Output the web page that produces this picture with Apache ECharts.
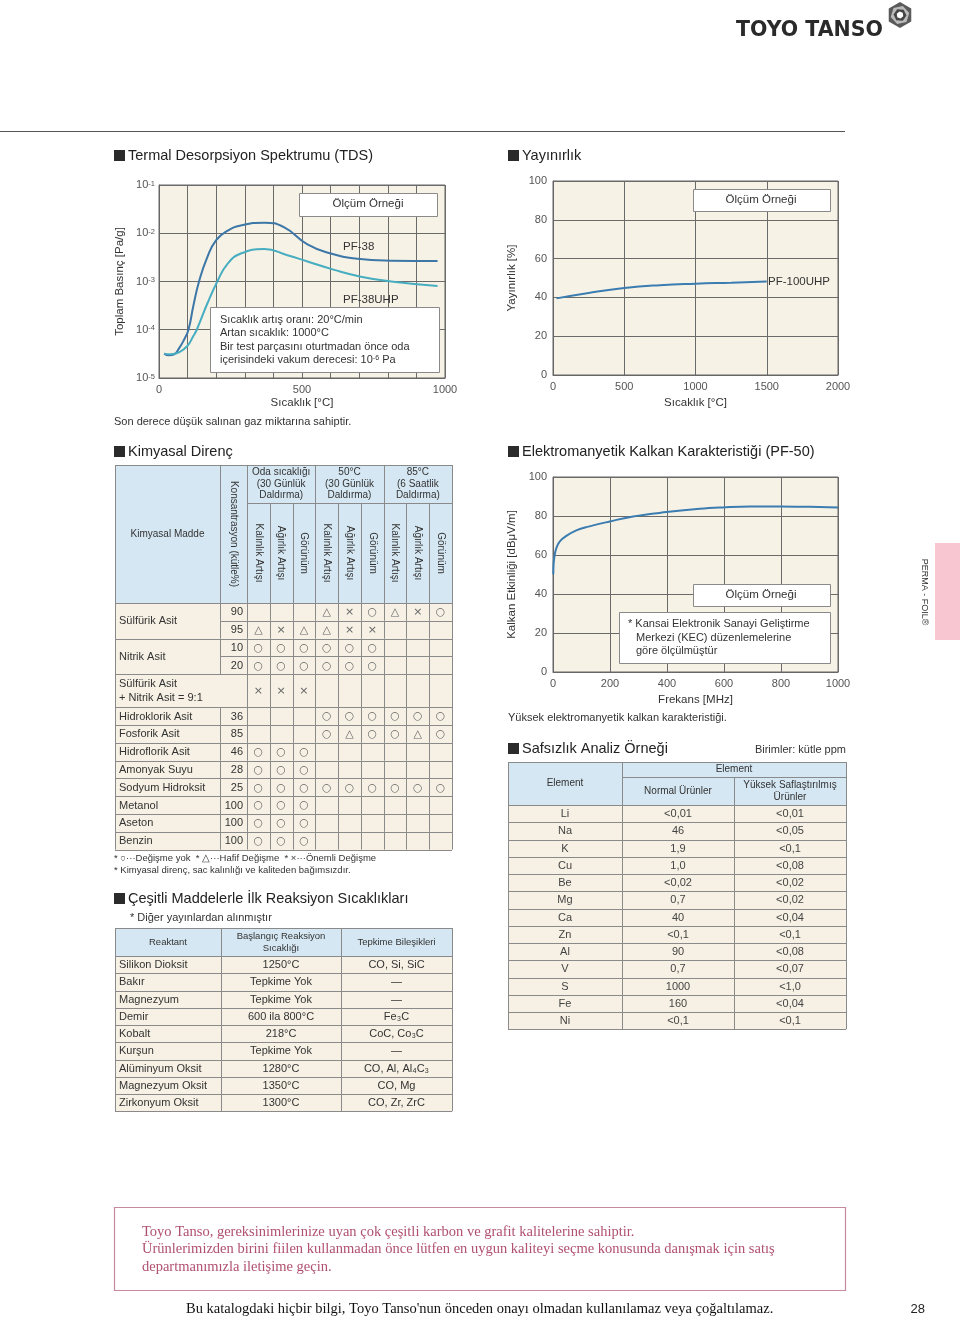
<!DOCTYPE html>
<html><head><meta charset="utf-8">
<script src="https://cdn.jsdelivr.net/npm/echarts@6/dist/echarts.min.js"></script>
<style>html,body{margin:0;padding:0;background:#fff}#c{width:960px;height:1319px}</style>
</head><body><div id="c"></div>
<script>
// ================= DATA =================
// TDS (Thermal Desorption Spectrum)
const tdsTempPF38 = [18, 35, 53, 70, 88, 103, 120, 140, 169, 200, 239, 286, 368, 438, 519, 601, 694, 811, 974];
const tdsPF38 = [3.2e-5, 2.95e-5, 3.1e-5, 4.1e-5, 6.3e-5, 1.0e-4, 3.1e-4, 1.0e-3, 3.2e-3, 7.2e-3, 1.12e-2, 1.45e-2, 1.66e-2, 1.32e-2, 5.9e-3, 3.8e-3, 2.95e-3, 2.7e-3, 2.65e-3];
const tdsTempUHP = [18, 41, 70, 99, 120, 132, 169, 204, 239, 286, 368, 449, 519, 613, 706, 811, 974];
const tdsPF38UHP = [3.2e-5, 3.1e-5, 3.4e-5, 4.6e-5, 7.4e-5, 1.0e-4, 3.5e-4, 1.0e-3, 2.3e-3, 3.8e-3, 4.7e-3, 3.5e-3, 2.6e-3, 1.74e-3, 1.26e-3, 1.0e-3, 8.1e-4];
// Emissivity
const emisTemp = [25, 250, 500, 750, 1000, 1250, 1500];
const emisPF100UHP = [39.5, 42.3, 44.8, 46.3, 47.1, 47.6, 48.2];
// EMI shielding
const emiFreq = [1, 2.3, 5.8, 11.7, 23.4, 46.8, 81.9, 117, 199, 281, 398, 515, 596, 690, 798, 901, 1000];
const emiPF50 = [50.1, 55.7, 60.0, 63.5, 66.9, 69.8, 72.6, 74.3, 77.2, 79.8, 82.0, 83.7, 84.4, 84.9, 84.9, 84.7, 84.4];
// Chemical resistance
const chemSubstances = ['Sülfürik Asit', 'Sülfürik Asit', 'Nitrik Asit', 'Nitrik Asit', 'Sülfürik Asit\n+ Nitrik Asit = 9:1', 'Hidroklorik Asit', 'Fosforik Asit', 'Hidroflorik Asit', 'Amonyak Suyu', 'Sodyum Hidroksit', 'Metanol', 'Aseton', 'Benzin'];
const chemConcentrations = ['90', '95', '10', '20', '', '36', '85', '46', '28', '25', '100', '100', '100'];
const chemResults = [
  ['', '', '', '△', '×', '○', '△', '×', '○'],
  ['△', '×', '△', '△', '×', '×', '', '', ''],
  ['○', '○', '○', '○', '○', '○', '', '', ''],
  ['○', '○', '○', '○', '○', '○', '', '', ''],
  ['×', '×', '×', '', '', '', '', '', ''],
  ['', '', '', '○', '○', '○', '○', '○', '○'],
  ['', '', '', '○', '△', '○', '○', '△', '○'],
  ['○', '○', '○', '', '', '', '', '', ''],
  ['○', '○', '○', '', '', '', '', '', ''],
  ['○', '○', '○', '○', '○', '○', '○', '○', '○'],
  ['○', '○', '○', '', '', '', '', '', ''],
  ['○', '○', '○', '', '', '', '', '', ''],
  ['○', '○', '○', '', '', '', '', '', '']
];
const chemGroups = ['Oda sıcaklığı\n(30 Günlük\nDaldırma)', '50°C\n(30 Günlük\nDaldırma)', '85°C\n(6 Saatlik\nDaldırma)'];
const chemSubHeaders = ['Kalınlık Artışı', 'Ağırlık Artışı', 'Görünüm'];
// Reaction temperatures
const reactants = ['Silikon Dioksit', 'Bakır', 'Magnezyum', 'Demir', 'Kobalt', 'Kurşun', 'Alüminyum Oksit', 'Magnezyum Oksit', 'Zirkonyum Oksit'];
const reactionTemps = ['1250°C', 'Tepkime Yok', 'Tepkime Yok', '600 ila 800°C', '218°C', 'Tepkime Yok', '1280°C', '1350°C', '1300°C'];
const reactionProducts = ['CO, Si, SiC', '—', '—', 'Fe₃C', 'CoC, Co₃C', '—', 'CO, Al, Al₄C₃', 'CO, Mg', 'CO, Zr, ZrC'];
// Purity
const elements = ['Li', 'Na', 'K', 'Cu', 'Be', 'Mg', 'Ca', 'Zn', 'Al', 'V', 'S', 'Fe', 'Ni'];
const normalProducts = ['<0,01', '46', '1,9', '1,0', '<0,02', '0,7', '40', '<0,1', '90', '0,7', '1000', '160', '<0,1'];
const highPurityProducts = ['<0,01', '<0,05', '<0,1', '<0,08', '<0,02', '<0,02', '<0,04', '<0,1', '<0,08', '<0,07', '<1,0', '<0,04', '<0,1'];

// ================= DRAWING =================
const LS = '"Liberation Sans", Arial, Helvetica, sans-serif';
const SERIF = '"Liberation Serif", "Times New Roman", serif';
const SYM = '"DejaVu Sans", sans-serif';
const HEAD_BG = '#d5e7f2', BODY_BG = '#f6f1e4', LINE = '#8a8a8a', PLOT_BG = '#f7f2e6';
const G = [];
const sn = v => Math.round(v) + 0.5;
function T(x, y, text, o) {
  o = o || {};
  const st = {
    text: text, x: 0, y: 0,
    fill: o.color || '#333',
    fontSize: o.size || 11, fontFamily: o.family || LS, fontWeight: o.weight || 'normal',
    align: o.align || 'left', textAlign: o.align || 'left',
    verticalAlign: o.va || 'middle', textVerticalAlign: o.va || 'middle'
  };
  if (o.lh) st.lineHeight = o.lh;
  if (o.rich) st.rich = o.rich;
  G.push({type: 'text', x: x, y: y, rotation: o.rot || 0, z: 110, silent: true, style: st});
}
function R(x, y, w, h, fill, stroke, lw, z) {
  G.push({type: 'rect', shape: {x: stroke ? sn(x) : x, y: stroke ? sn(y) : y, width: Math.round(w), height: Math.round(h)}, z: z || 100, silent: true,
    style: {fill: fill || 'none', stroke: stroke || null, lineWidth: lw || 1}});
}
function L(x1, y1, x2, y2, color, lw) {
  if (x1 === x2) { x1 = x2 = sn(x1); } if (y1 === y2) { y1 = y2 = sn(y1); }
  G.push({type: 'line', shape: {x1, y1, x2, y2}, z: 105, silent: true, style: {stroke: color || LINE, lineWidth: lw || 1}});
}
function section(x, y, text) {
  R(x, y - 6, 11, 11, '#2b2b2b', null, 0);
  T(x + 14, y, text, {size: 14.5, color: '#222'});
}

// Header / logo
T(736, 31, 'TOYO TANSO', {size: 20.5, weight: 'bold', family: '"DejaVu Sans", sans-serif', color: '#2a2a2a'});
(function () {
  const cx = 900, cy = 15;
  const hex = (r, a0) => { const p = []; for (let k = 0; k < 6; k++) { const a = a0 + k * Math.PI / 3; p.push([cx + r * Math.cos(a), cy + r * Math.sin(a)]); } return p; };
  G.push({type: 'polygon', shape: {points: hex(13, Math.PI / 6)}, z: 100, style: {fill: '#5a5a5a'}});
  G.push({type: 'polygon', shape: {points: hex(9.5, Math.PI / 6 + 0.3)}, z: 101, style: {fill: '#bbb'}});
  G.push({type: 'polygon', shape: {points: hex(6.5, Math.PI / 6 + 0.6)}, z: 102, style: {fill: '#444'}});
  G.push({type: 'polygon', shape: {points: hex(3.5, Math.PI / 6 + 0.9)}, z: 103, style: {fill: '#fff'}});
})();
L(0, 131, 845, 131, '#555', 1.2);

// Section titles
section(114, 156, 'Termal Desorpsiyon Spektrumu (TDS)');
section(508, 156, 'Yayınırlık');
section(114, 452, 'Kimyasal Direnç');
section(508, 452, 'Elektromanyetik Kalkan Karakteristiği (PF-50)');
section(508, 749, 'Safsızlık Analiz Örneği');
section(114, 899, 'Çeşitli Maddelerle İlk Reaksiyon Sıcaklıkları');

// TDS annotations
R(299, 193, 138, 23, '#fff', '#8a8a8a', 1);
T(368, 204, 'Ölçüm Örneği', {align: 'center', size: 11.5});
T(343, 247, 'PF-38', {size: 11.5});
T(343, 300, 'PF-38UHP', {size: 11.5});
R(210, 307, 229, 65, '#fff', '#8a8a8a', 1);
T(220, 320, 'Sıcaklık artış oranı: 20°C/min', {size: 11});
T(220, 333, 'Artan sıcaklık: 1000°C', {size: 11});
T(220, 347, 'Bir test parçasını oturtmadan önce oda', {size: 11});
T(220, 360, 'içerisindeki vakum derecesi: {s|10}{p|-6}{s| Pa}', {size: 11,
  rich: {s: {fontSize: 11, fontFamily: LS, fill: '#333', verticalAlign: 'bottom'}, p: {fontSize: 7, fontFamily: LS, fill: '#333', verticalAlign: 'top'}}});
T(114, 422, 'Son derece düşük salınan gaz miktarına sahiptir.', {size: 11});

// Emissivity annotations
R(693, 189, 137, 22, '#fff', '#8a8a8a', 1);
T(761, 200, 'Ölçüm Örneği', {align: 'center', size: 11.5});
T(768, 282, 'PF-100UHP', {size: 11.5});

// EMI annotations
R(693, 584, 137, 22, '#fff', '#8a8a8a', 1);
T(761, 595, 'Ölçüm Örneği', {align: 'center', size: 11.5});
R(619, 612, 211, 51, '#fff', '#8a8a8a', 1);
T(628, 624, '* Kansai Elektronik Sanayi Geliştirme', {size: 11});
T(636, 638, 'Merkezi (KEC) düzenlemelerine', {size: 11});
T(636, 651, 'göre ölçülmüştür', {size: 11});
T(508, 718, 'Yüksek elektromanyetik kalkan karakteristiği.', {size: 11});

// ---------- Chemical resistance table ----------
(function () {
  const x0 = 115, xName = 220, xConc = 247, xEnd = 452;
  const top = 465, sub = 503, head = 603;
  const w = (xEnd - xConc) / 9;
  R(x0, top, xEnd - x0, head - top, HEAD_BG, null, 0, 99);
  let y = head; const rows = [];
  chemSubstances.forEach(n => { const h = n.indexOf('\n') >= 0 ? 33 : 17.8; rows.push([y, h]); y += h; });
  const bottom = y;
  R(x0, head, xEnd - x0, bottom - head, BODY_BG, null, 0, 99);
  L(x0, top, xEnd, top); L(x0, head, xEnd, head); L(xConc, sub, xEnd, sub);
  L(x0, top, x0, bottom); L(xEnd, top, xEnd, bottom);
  L(xName, top, xName, head); L(xConc, top, xConc, head);
  for (let k = 1; k < 9; k++) { const xx = xConc + k * w; L(xx, k % 3 === 0 ? top : sub, xx, head); }
  T((x0 + xName) / 2, 534, 'Kimyasal Madde', {align: 'center', size: 10});
  T((xName + xConc) / 2, 534, 'Konsantrasyon (kütle%)', {align: 'center', size: 10, rot: -Math.PI / 2});
  chemGroups.forEach((g, gi) => T(xConc + (gi * 3 + 1.5) * w, 484, g, {align: 'center', size: 10, lh: 11.5}));
  for (let k = 0; k < 9; k++) T(xConc + (k + 0.5) * w, 553, chemSubHeaders[k % 3], {align: 'center', size: 10, rot: -Math.PI / 2});
  rows.forEach(([ry, h], i) => {
    if (i > 0) { const merged = chemSubstances[i] === chemSubstances[i - 1]; L(merged ? xName : x0, ry, xEnd, ry); }
    if (chemConcentrations[i] !== '') L(xName, ry, xName, ry + h);
    for (let k = 0; k <= 8; k++) L(xConc + k * w, ry, xConc + k * w, ry + h);
  });
  L(x0, bottom, xEnd, bottom);
  let i = 0;
  while (i < chemSubstances.length) {
    let j = i; while (j + 1 < chemSubstances.length && chemSubstances[j + 1] === chemSubstances[i]) j++;
    const yc = (rows[i][0] + rows[j][0] + rows[j][1]) / 2;
    T(x0 + 4, yc + 0.5, chemSubstances[i], {size: 11, lh: 13.5});
    i = j + 1;
  }
  rows.forEach(([ry, h], r) => {
    if (chemConcentrations[r]) T(xConc - 4, ry + h / 2 + 0.5, chemConcentrations[r], {align: 'right', size: 11});
    chemResults[r].forEach((s, k) => { if (s) T(xConc + (k + 0.5) * w, ry + h / 2 + 0.5, s, {align: 'center', size: 11, family: SYM, color: '#666'}); });
  });
  T(114, 858, '* ○···Değişme yok  * △···Hafif Değişme  * ×···Önemli Değişme', {size: 9.5});
  T(114, 870, '* Kimyasal direnç, sac kalınlığı ve kaliteden bağımsızdır.', {size: 9.5});
})();

// ---------- Reaction table ----------
(function () {
  const cols = [115, 221, 341, 452];
  const top = 928, head = 956, rh = 17.25;
  const bottom = head + rh * reactants.length;
  T(130, 918, '* Diğer yayınlardan alınmıştır', {size: 11});
  R(cols[0], top, cols[3] - cols[0], head - top, HEAD_BG, null, 0, 99);
  R(cols[0], head, cols[3] - cols[0], bottom - head, BODY_BG, null, 0, 99);
  L(cols[0], top, cols[3], top);
  for (let r = 0; r <= reactants.length; r++) L(cols[0], head + r * rh, cols[3], head + r * rh);
  cols.forEach(x => L(x, top, x, bottom));
  T((cols[0] + cols[1]) / 2, 942, 'Reaktant', {align: 'center', size: 9.5});
  T((cols[1] + cols[2]) / 2, 942, 'Başlangıç Reaksiyon\nSıcaklığı', {align: 'center', size: 9.5, lh: 12});
  T((cols[2] + cols[3]) / 2, 942, 'Tepkime Bileşikleri', {align: 'center', size: 9.5});
  reactants.forEach((n, r) => {
    const yc = head + (r + 0.5) * rh + 0.5;
    T(cols[0] + 4, yc, n, {size: 11});
    T((cols[1] + cols[2]) / 2, yc, reactionTemps[r], {align: 'center', size: 11});
    T((cols[2] + cols[3]) / 2, yc, reactionProducts[r], {align: 'center', size: 11});
  });
})();

// ---------- Purity table ----------
(function () {
  const cols = [508, 622, 734, 846];
  const top = 762, mid = 777, head = 805, rh = 17.25;
  const bottom = head + rh * elements.length;
  T(846, 750, 'Birimler: kütle ppm', {align: 'right', size: 11});
  R(cols[0], top, cols[3] - cols[0], head - top, HEAD_BG, null, 0, 99);
  R(cols[0], head, cols[3] - cols[0], bottom - head, BODY_BG, null, 0, 99);
  L(cols[0], top, cols[3], top); L(cols[1], mid, cols[3], mid);
  for (let r = 0; r <= elements.length; r++) L(cols[0], head + r * rh, cols[3], head + r * rh);
  L(cols[0], top, cols[0], bottom); L(cols[1], top, cols[1], bottom); L(cols[3], top, cols[3], bottom);
  L(cols[2], mid, cols[2], bottom);
  T((cols[0] + cols[1]) / 2, 783, 'Element', {align: 'center', size: 10});
  T((cols[1] + cols[3]) / 2, 769, 'Element', {align: 'center', size: 10});
  T((cols[1] + cols[2]) / 2, 791, 'Normal Ürünler', {align: 'center', size: 10});
  T((cols[2] + cols[3]) / 2, 791, 'Yüksek Saflaştırılmış\nÜrünler', {align: 'center', size: 10, lh: 12});
  elements.forEach((e, r) => {
    const yc = head + (r + 0.5) * rh + 0.5;
    T((cols[0] + cols[1]) / 2, yc, e, {align: 'center', size: 11, color: '#444'});
    T((cols[1] + cols[2]) / 2, yc, normalProducts[r], {align: 'center', size: 11, color: '#444'});
    T((cols[2] + cols[3]) / 2, yc, highPurityProducts[r], {align: 'center', size: 11, color: '#444'});
  });
})();

// Side tab
R(935, 543, 25, 97, '#f8c6d0', null, 0);
T(924, 592, 'PERMA - FOIL®', {align: 'center', size: 9, rot: -Math.PI / 2, color: '#333'});

// Footer
R(114, 1207, 731, 83, 'none', '#c48a9b', 1.2);
T(142, 1232, 'Toyo Tanso, gereksinimlerinize uyan çok çeşitli karbon ve grafit kalitelerine sahiptir.', {size: 14.5, family: SERIF, color: '#b0506f'});
T(142, 1249, 'Ürünlerimizden birini fiilen kullanmadan önce lütfen en uygun kaliteyi seçme konusunda danışmak için satış', {size: 14.5, family: SERIF, color: '#b0506f'});
T(142, 1267, 'departmanımızla iletişime geçin.', {size: 14.5, family: SERIF, color: '#b0506f'});
T(186, 1309, "Bu katalogdaki hiçbir bilgi, Toyo Tanso'nun önceden onayı olmadan kullanılamaz veya çoğaltılamaz.", {size: 14.5, family: SERIF, color: '#111'});
T(925, 1309, '28', {align: 'right', size: 13, color: '#222'});

// ================= CHART =================
const zip = (a, b) => a.map((v, i) => [v, b[i]]);
const axBase = () => ({
  nameLocation: 'middle',
  axisTick: {show: false},
  axisLine: {show: true, lineStyle: {color: '#666', width: 1}},
  splitLine: {show: true, lineStyle: {color: '#6a6a6a', width: 1}},
  axisLabel: {color: '#555', fontSize: 11, fontFamily: LS, margin: 6, formatter: v => String(v)},
  nameTextStyle: {color: '#333', fontSize: 11.5, fontFamily: LS}
});
const gridBase = {show: true, backgroundColor: PLOT_BG, borderColor: '#666', borderWidth: 1, containLabel: false};
const option = {
  backgroundColor: '#fff',
  animation: false,
  grid: [
    Object.assign({left: 159, top: 185, width: 286, height: 193}, gridBase),
    Object.assign({left: 553, top: 181, width: 285, height: 194}, gridBase),
    Object.assign({left: 553, top: 477, width: 285, height: 195}, gridBase)
  ],
  xAxis: [
    Object.assign(axBase(), {gridIndex: 0, type: 'value', min: 0, max: 1000, interval: 100, name: 'Sıcaklık [°C]', nameGap: 19,
      axisLabel: {color: '#555', fontSize: 11, fontFamily: LS, margin: 6, formatter: v => (v % 500 === 0 ? String(v) : '')}}),
    Object.assign(axBase(), {gridIndex: 1, type: 'value', min: 0, max: 2000, interval: 500, name: 'Sıcaklık [°C]', nameGap: 22}),
    Object.assign(axBase(), {gridIndex: 2, type: 'value', min: 0, max: 1000, interval: 200, name: 'Frekans [MHz]', nameGap: 22})
  ],
  yAxis: [
    Object.assign(axBase(), {gridIndex: 0, type: 'log', logBase: 10, min: 1e-5, max: 1e-1, name: 'Toplam Basınç [Pa/g]', nameGap: 33,
      axisLabel: {margin: 4, formatter: v => '{b|10}{s|' + Math.round(Math.log10(v)) + '}',
        rich: {b: {fontSize: 11, fontFamily: LS, color: '#555', verticalAlign: 'bottom'}, s: {fontSize: 7.5, fontFamily: LS, color: '#555', verticalAlign: 'top'}}}}),
    Object.assign(axBase(), {gridIndex: 1, type: 'value', min: 0, max: 100, interval: 20, name: 'Yayınırlık [%]', nameGap: 35}),
    Object.assign(axBase(), {gridIndex: 2, type: 'value', min: 0, max: 100, interval: 20, name: 'Kalkan Etkinliği [dBμV/m]', nameGap: 35})
  ],
  series: [
    {name: 'PF-38', type: 'line', xAxisIndex: 0, yAxisIndex: 0, data: zip(tdsTempPF38, tdsPF38), smooth: 0.5, showSymbol: false, lineStyle: {color: '#3c77a8', width: 2}, z: 5},
    {name: 'PF-38UHP', type: 'line', xAxisIndex: 0, yAxisIndex: 0, data: zip(tdsTempUHP, tdsPF38UHP), smooth: 0.5, showSymbol: false, lineStyle: {color: '#47adc0', width: 2}, z: 5},
    {name: 'PF-100UHP', type: 'line', xAxisIndex: 1, yAxisIndex: 1, data: zip(emisTemp, emisPF100UHP), smooth: 0.5, showSymbol: false, lineStyle: {color: '#3b7db1', width: 2}, z: 5},
    {name: 'PF-50', type: 'line', xAxisIndex: 2, yAxisIndex: 2, data: zip(emiFreq, emiPF50), smooth: 0.4, showSymbol: false, lineStyle: {color: '#3b7db1', width: 2}, z: 5}
  ],
  graphic: {elements: G}
};
const chart = echarts.init(document.getElementById('c'), null, {renderer: 'canvas', width: 960, height: 1319});
chart.setOption(option);
</script>
</body></html>
